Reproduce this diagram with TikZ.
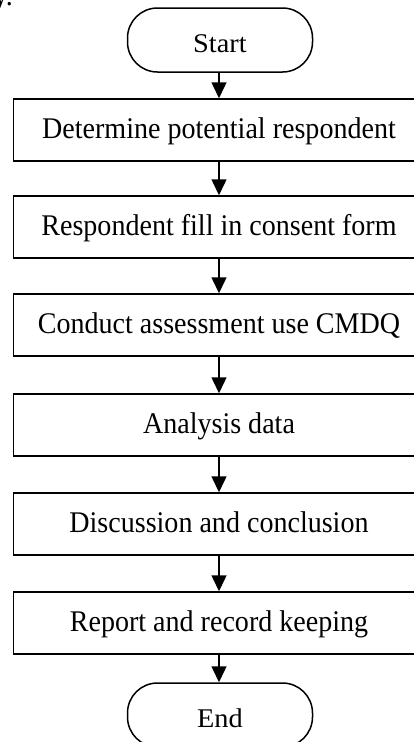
\documentclass[tikz,border=0pt]{standalone}
\usepackage{fontspec}
\setmainfont{Liberation Serif}[FakeStretch=0.935]
\newfontfamily\termfont{Liberation Serif}[FakeStretch=1.05]
\usetikzlibrary{arrows.meta}
\tikzset{
  stepbox/.style={draw, line width=1.5pt, minimum width=411pt, minimum height=62pt, inner sep=0pt,
    text height=20pt, text depth=3pt, font=\fontsize{30}{34}\selectfont},
  termbox/.style={draw, line width=1.5pt, rounded corners=30pt, minimum width=185pt, minimum height=64pt, inner sep=0pt,
    text height=24pt, text depth=0pt, font=\termfont\fontsize{27}{30}\selectfont},
  flow/.style={line width=1.5pt, -{Triangle[width=15pt,length=16pt]}}
}
\begin{document}
\begin{tikzpicture}[x=1pt, y=-1pt, font=\fontsize{30}{34}\selectfont]
                \useasboundingbox (0,0) rectangle (414,742);
                \clip (0,0) rectangle (414,742);
                \node[anchor=base east, inner sep=0pt] (tail) at (13,5) {y.};
                \node[termbox] (start) at (220,40) {Start};
                \node[stepbox] (s1) at (219,130) {Determine potential respondent};
                \node[stepbox] (s2) at (219,227) {Respondent fill in consent form};
                \node[stepbox] (s3) at (219,325) {Conduct assessment use CMDQ};
                \node[stepbox] (s4) at (219,425) {Analysis data};
                \node[stepbox] (s5) at (219,524) {Discussion and conclusion};
                \node[stepbox] (s6) at (219,623) {Report and record keeping};
                \node[termbox] (end) at (220,715) {End};
                \draw[flow] (start.south -| s1.north) -- (s1.north);
                \draw[flow] (s1) -- (s2);
                \draw[flow] (s2) -- (s3);
                \draw[flow] (s3) -- (s4);
                \draw[flow] (s4) -- (s5);
                \draw[flow] (s5) -- (s6);
                \draw[flow] (s6.south) -- (end.north -| s6.south);
            \end{tikzpicture}
\end{document}
